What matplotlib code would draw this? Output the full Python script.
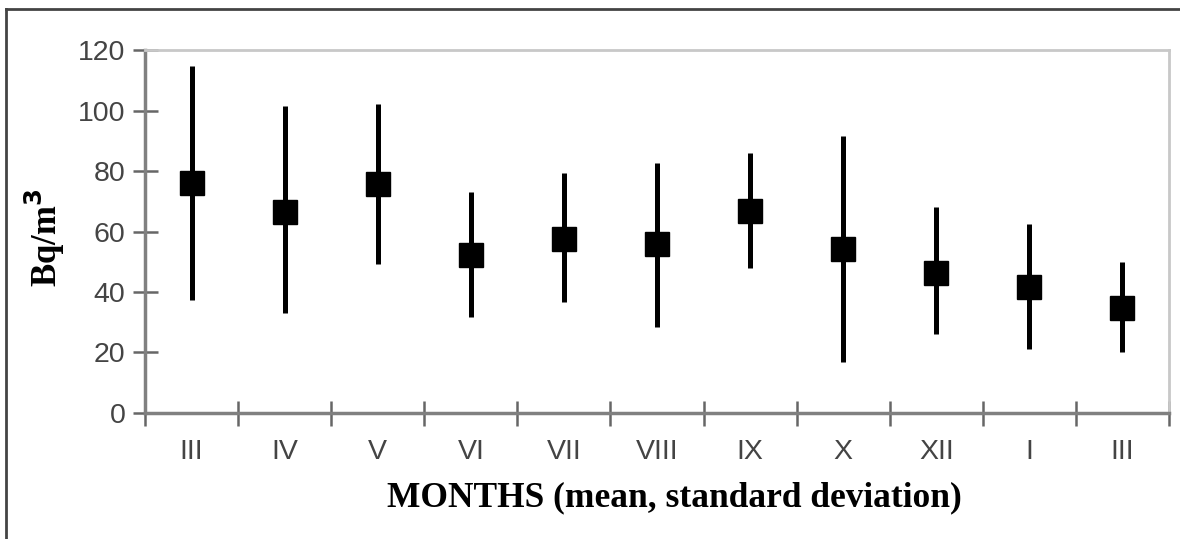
import matplotlib
matplotlib.use("Agg")
import matplotlib.pyplot as plt
from matplotlib.lines import Line2D
import numpy as np

months = ["III", "IV", "V", "VI", "VII", "VIII", "IX", "X", "XII", "I", "III"]
means = [76.2, 66.6, 75.7, 52.2, 57.5, 55.8, 66.8, 54.2, 46.4, 41.8, 34.6]
upper = [114.7, 101.5, 102.2, 73.2, 79.2, 82.5, 85.8, 91.6, 68.0, 62.5, 49.8]
lower = [37.5, 33.2, 49.2, 31.8, 36.6, 28.5, 47.8, 16.8, 26.1, 21.1, 20.3]
yticks = [0, 20, 40, 60, 80, 100, 120]

tick_family = "Liberation Sans"
tick_size = 20.5

fig = plt.figure(figsize=(11.8, 5.39), dpi=100)
ax = fig.add_axes([0.1229, 0.2338, 0.9907 - 0.1229, 0.9072 - 0.2338])

x = np.arange(len(months)) + 0.5
m = np.array(means)
yerr = [m - np.array(lower), np.array(upper) - m]
ax.errorbar(x, m, yerr=yerr, fmt="s", color="black", ecolor="black",
            elinewidth=3.6, capsize=0, markersize=17, zorder=3)

ax.set_xlim(0, len(months))
ax.set_ylim(0, 120)
ax.set_yticks(yticks)
ax.set_xticks(np.arange(len(months) + 1))
ax.set_xticklabels([])
ax.set_xticks(x, minor=True)
ax.set_xticklabels(months, minor=True)

for lab in ax.get_yticklabels() + ax.get_xticklabels(minor=True):
    lab.set_fontfamily(tick_family); lab.set_fontsize(tick_size); lab.set_color("#444444")

ax.tick_params(axis="both", which="major", direction="inout", length=18, width=1.8, color="#666666")
ax.tick_params(axis="y", pad=5)
ax.tick_params(axis="x", which="minor", length=0, pad=19)
ax.tick_params(axis="x", which="major", pad=19)

for s in ["left", "bottom"]:
    ax.spines[s].set_color("#808080")
    ax.spines[s].set_linewidth(2.5)
for s in ["top", "right"]:
    ax.spines[s].set_color("#c8c8c8")
    ax.spines[s].set_linewidth(2.0)

fig.text(674 / 1180, 1 - 498 / 539, "MONTHS (mean, standard deviation)", family="Liberation Serif",
         fontweight="bold", fontsize=25.5, ha="center", va="center")
fig.text(45 / 1180, 1 - 238 / 539, "Bq/m$^\\mathbf{3}$", family="Liberation Serif", fontweight="bold",
         fontsize=25, rotation=90, ha="center", va="center")

# outer frame (top and left)
fig.add_artist(Line2D([6 / 1180, 1.0], [1 - 9 / 539, 1 - 9 / 539], transform=fig.transFigure,
                      color="#444444", linewidth=2.0))
fig.add_artist(Line2D([6 / 1180, 6 / 1180], [0, 1 - 9 / 539], transform=fig.transFigure,
                      color="#444444", linewidth=2.0))

fig.savefig("out.png", dpi=100)
